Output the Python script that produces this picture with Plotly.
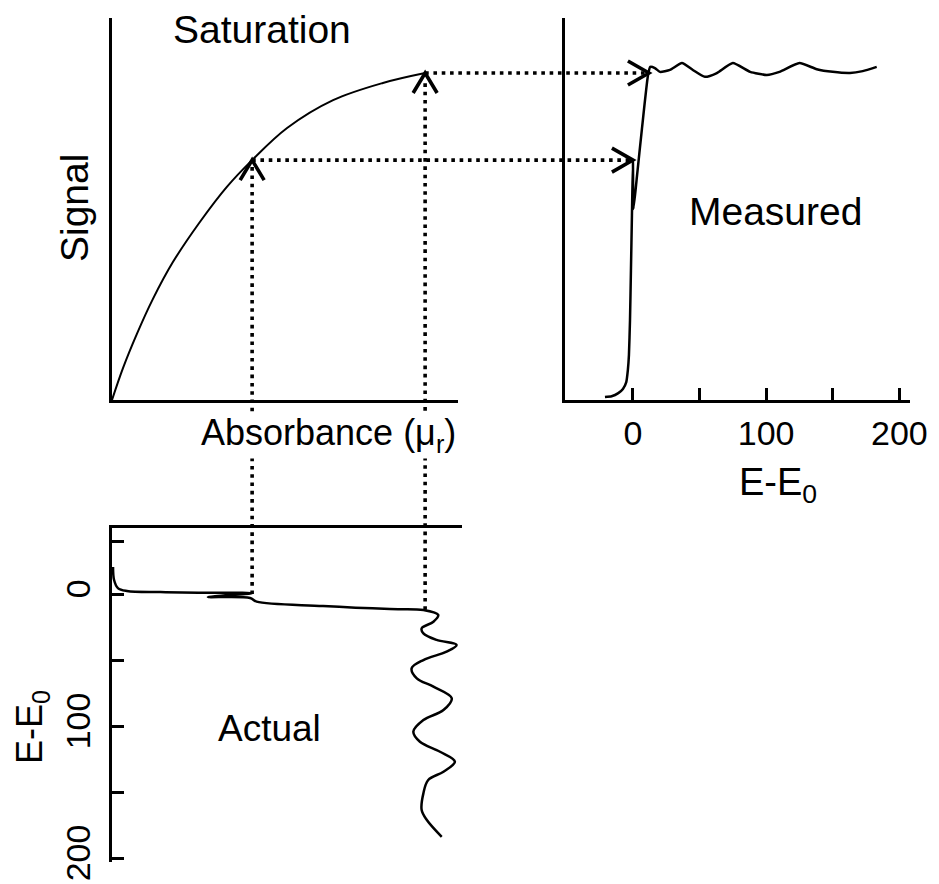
import plotly.graph_objects as go

W, H = 939, 884

# Saturation curve: detected signal vs. true absorbance
sat_absorbance = [0, 0.032, 0.072, 0.118, 0.176, 0.254, 0.332, 0.405, 0.506, 0.639, 0.783, 0.905]
sat_signal = [0, 0.084, 0.173, 0.264, 0.361, 0.466, 0.558, 0.628, 0.712, 0.785, 0.830, 0.856]

# Measured (saturated) spectrum: signal vs. E-E0
meas_energy = [-21, -16, -11, -7.5, -5, -3.8, -3, -2.2, -1.5, -0.75, 0, 0.4, 3, 6.75, 11.3, 13,
               16.5, 20.3, 27.8, 36.8, 45, 54, 63, 75, 88, 100.5, 110, 125, 138, 150, 163, 172.5, 183]
meas_signal = [0.008, 0.01, 0.018, 0.029, 0.047, 0.079, 0.118, 0.209, 0.34, 0.484, 0.628, 0.50, 0.585, 0.71, 0.85, 0.872,
               0.869, 0.859, 0.864, 0.882, 0.864, 0.846, 0.856, 0.882, 0.859, 0.851, 0.859, 0.882, 0.866, 0.859, 0.856, 0.861, 0.872]

# Actual spectrum: absorbance vs. E-E0 (energy runs downward)
act_energy = [-20.5, -10.6, -4.5, -2.3, -1.5, -1.0, -0.6, 2.3, 3.0, 5.8, 9.1, 11.4, 12.1,
              15.9, 21.0, 26.0, 29.8, 34.8, 38.6, 43.7, 50.0, 56.3, 63.9, 70.2, 79.0, 87.9,
              95.5, 104.3, 111.9, 119.5, 127.0, 134.6, 140.9, 151.0, 163.6, 171.2, 183.9]
act_absorbance = [0.003, 0.006, 0.017, 0.043, 0.14, 0.25, 0.405, 0.277, 0.399, 0.418, 0.610, 0.803, 0.900,
                  0.943, 0.929, 0.895, 0.900, 0.938, 0.996, 0.967, 0.900, 0.866, 0.881, 0.929, 0.982, 0.958,
                  0.900, 0.871, 0.890, 0.948, 0.991, 0.958, 0.914, 0.900, 0.895, 0.910, 0.953]

# Points linking the panels: absorbance -> signal -> measured energy
guide_absorbance = [0.405, 0.905]
guide_signal = [0.628, 0.856]
guide_energy = [0, 12]

meas_tickvals = [0, 50, 100, 150, 200]
meas_ticktext = ["0", "", "100", "", "200"]
act_tickvals = [-40, 0, 50, 100, 150, 200]
act_ticktext = ["", "0", "", "100", "", "200"]

FONT = "Liberation Sans, Arial, Helvetica, sans-serif"
INK = "black"


def px_x(p):
    return p / W


def px_y(p):
    return 1 - p / H


X1_DOM = [px_x(112), px_x(458)]
X2_DOM = [px_x(565), px_x(910)]
X3_DOM = [px_x(112), px_x(462)]
YT_DOM = [px_y(400), px_y(18)]
YB_DOM = [px_y(862), px_y(528)]

X1_RANGE = [0, 1.0]
Y1_RANGE = [0, 1]
X2_RANGE = [-51, 208]
X3_RANGE = [0, 1.0116]
Y3_RANGE = [203, -50]


def to_paper(v, rng, dom):
    return dom[0] + (v - rng[0]) / (rng[1] - rng[0]) * (dom[1] - dom[0])


fig = go.Figure()
fig.add_trace(go.Scatter(x=sat_absorbance, y=sat_signal, xaxis="x", yaxis="y", mode="lines",
                         line=dict(color=INK, width=2, shape="spline", smoothing=1), hoverinfo="skip"))
fig.add_trace(go.Scatter(x=meas_energy, y=meas_signal, xaxis="x2", yaxis="y2", mode="lines",
                         line=dict(color=INK, width=2.5, shape="spline", smoothing=0.5), hoverinfo="skip"))
fig.add_trace(go.Scatter(x=act_absorbance, y=act_energy, xaxis="x3", yaxis="y3", mode="lines",
                         line=dict(color=INK, width=2.5, shape="spline", smoothing=1), hoverinfo="skip"))

plain = dict(showgrid=False, zeroline=False, showline=True, linecolor=INK, linewidth=2.5,
             ticks="", showticklabels=False, fixedrange=True, automargin=False)
tickfont = dict(family=FONT, size=34, color=INK)

fig.update_layout(
    width=W, height=H,
    margin=dict(l=0, r=0, t=0, b=0, autoexpand=False),
    paper_bgcolor="white", plot_bgcolor="white",
    showlegend=False,
    font=dict(family=FONT, color=INK),
    xaxis=dict(plain, domain=X1_DOM, range=X1_RANGE, anchor="y"),
    yaxis=dict(plain, domain=YT_DOM, range=Y1_RANGE, anchor="x"),
    xaxis2=dict(plain, domain=X2_DOM, range=X2_RANGE, anchor="y2",
                ticks="inside", ticklen=12, tickwidth=2.5, tickcolor=INK,
                showticklabels=True, tickvals=meas_tickvals, ticktext=meas_ticktext,
                tickfont=tickfont, ticklabelstandoff=1),
    yaxis2=dict(plain, domain=YT_DOM, range=Y1_RANGE, anchor="x2"),
    xaxis3=dict(plain, domain=X3_DOM, range=X3_RANGE, anchor="y3", side="top"),
    yaxis3=dict(plain, domain=YB_DOM, range=Y3_RANGE, anchor="x3",
                ticks="inside", ticklen=12, tickwidth=2.5, tickcolor=INK,
                showticklabels=True, tickvals=act_tickvals, ticktext=act_ticktext,
                tickangle=-90, tickfont=tickfont, ticklabelstandoff=6),
)

dots = dict(color=INK, width=3.6, dash="3.6px,4.7px")
shapes = []
for a, s, e in zip(guide_absorbance, guide_signal, guide_energy):
    # horizontal: saturation curve -> measured spectrum
    shapes.append(dict(type="line", xref="paper", yref="y",
                       x0=to_paper(a, X1_RANGE, X1_DOM), x1=to_paper(e, X2_RANGE, X2_DOM) - 0.004,
                       y0=s, y1=s, line=dots, layer="above"))
    # vertical: actual spectrum -> saturation curve
    shapes.append(dict(type="line", xref="x", yref="paper",
                       x0=a, x1=a,
                       y0=to_paper(e, Y3_RANGE, YB_DOM), y1=to_paper(s, Y1_RANGE, YT_DOM) - 0.007,
                       line=dots, layer="above"))
    # open arrowheads
    shapes.append(dict(type="path", xref="x", yref="y", xsizemode="pixel", ysizemode="pixel",
                       xanchor=a, yanchor=s, path="M -12,-20 L 0,0 L 12,-20",
                       line=dict(color=INK, width=3.6), layer="above"))
    shapes.append(dict(type="path", xref="x2", yref="y2", xsizemode="pixel", ysizemode="pixel",
                       xanchor=e, yanchor=s, path="M -21,12 L 0,0 L -21,-12",
                       line=dict(color=INK, width=3.6), layer="above"))
fig.update_layout(shapes=shapes)


def label(text, xp, yp, size, angle=0, bg=None):
    fig.add_annotation(text=text, x=px_x(xp), y=px_y(yp), xref="paper", yref="paper",
                       xanchor="center", yanchor="middle", showarrow=False, textangle=angle,
                       font=dict(family=FONT, size=size, color=INK), bgcolor=bg, borderpad=0)


label("Saturation", 262, 30, 39)
label("Signal", 74, 208, 39, angle=-90)
label("Absorbance (\u03bc<sub>r</sub>)", 328, 435, 36, bg="white")
label("Measured", 775, 211, 39)
label("Actual", 269, 728, 37)
label("E-E<sub>0</sub>", 778, 485, 38)
label("E-E<sub>0</sub>", 32, 727, 36, angle=-90)

fig.write_html("out.html")
